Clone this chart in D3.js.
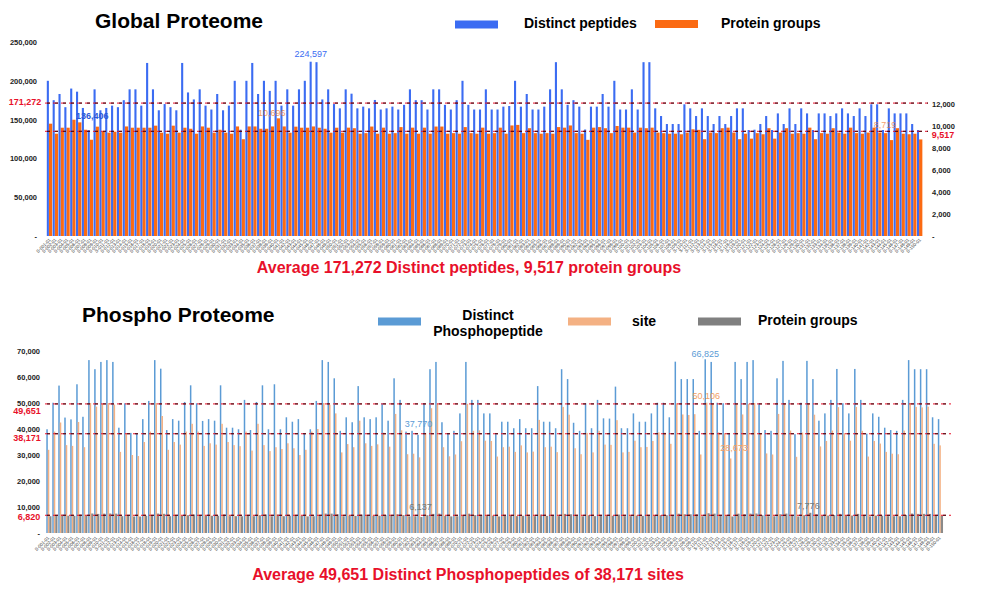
<!DOCTYPE html>
<html>
<head>
<meta charset="UTF-8">
<script src="https://d3js.org/d3.v7.min.js"></script>
<style>
  body { margin: 0; background: #fff; }
  svg text { font-family: "Liberation Sans", Arial, sans-serif; }
</style>
</head>
<body>
<svg id="chart" width="1000" height="594"></svg>
<script>
// sample names are unreadable in the source, so short run ids stand in for them
var samples = d3.range(1, 151).map(function (i) { return "S-" + String(i).padStart(3, "0") + "-01"; });

// global proteome
var peptides = [
  200000, 175000, 183000, 166000, 190000, 186000, 165000, 136406, 189000, 162000,
  165000, 168000, 166000, 175000, 189000, 189000, 168000, 223000, 189000, 162000,
  170000, 166000, 162000, 223000, 185000, 176000, 189000, 168000, 163000, 183000,
  162000, 168000, 200000, 137000, 200000, 223000, 183000, 200000, 187000, 200000,
  168000, 189000, 168000, 189000, 200000, 224597, 224000, 176000, 189000, 170000,
  164500, 189000, 183400, 164500, 166700, 164500, 175300, 163000, 164500, 166700,
  163000, 169000, 189000, 175000, 175000, 163000, 189000, 189000, 169000, 163000,
  175000, 200000, 169000, 163000, 163000, 189000, 163000, 163000, 166700, 167500,
  200000, 166700, 183000, 163000, 163000, 166700, 189000, 224000, 189000, 169000,
  175000, 166700, 137200, 166700, 166700, 183000, 166700, 200000, 163000, 163000,
  189000, 163000, 224000, 224000, 164500, 154600, 144300, 144300, 144300, 169700,
  164500, 154600, 164500, 154600, 144300, 154600, 144300, 154600, 164500, 164500,
  136600, 137000, 144300, 154600, 136600, 158000, 144300, 164500, 144300, 164500,
  158000, 136600, 158000, 158000, 154600, 158000, 164500, 158000, 154600, 164500,
  154600, 169700, 169700, 136600, 164500, 158000, 158000, 158000, 144300, 136600
];
var proteinGroups = [
  10210, 9300, 9845, 9845, 10570, 10330, 9660, 8750, 9940, 9480,
  9390, 9480, 9390, 9960, 9845, 9845, 9845, 9845, 10030, 9390,
  9300, 10030, 9390, 9845, 9750, 9300, 9960, 9845, 9390, 9660,
  9390, 9300, 9960, 8800, 9960, 9960, 9750, 9750, 9960, 10696,
  9960, 9390, 9940, 9845, 9845, 9960, 9845, 9750, 9390, 9845,
  9390, 9850, 9800, 9300, 9350, 9950, 9300, 9850, 9300, 9350,
  9900, 9300, 9850, 9300, 9850, 9300, 9950, 9950, 9300, 9350,
  9300, 9900, 9350, 9300, 9850, 9300, 9350, 9850, 9300, 10050,
  10100, 9350, 9800, 9350, 9300, 9350, 9300, 9900, 9850, 10050,
  9350, 9300, 8740, 9850, 9900, 9800, 9350, 10000, 9850, 9850,
  9400, 9850, 9800, 9850, 9400, 9350, 9300, 9300, 9250, 9400,
  9700, 9650, 8800, 9400, 9350, 9800, 9850, 9400, 8800, 9300,
  8850, 9350, 9250, 9800, 8850, 9400, 9800, 9300, 9350, 9300,
  9850, 8800, 9350, 9300, 9800, 9400, 9300, 9850, 9350, 9300,
  9400, 9850, 9400, 9350, 8719, 9800, 9300, 9250, 9300, 8780
];

// phospho proteome
var phosphoPeptides = [
  39900, 50100, 56700, 44400, 43700, 57200, 44700, 66500, 63000, 65800,
  66500, 65800, 40500, 49900, 38500, 38200, 43800, 50800, 66500, 63200,
  39600, 43800, 43200, 50400, 56800, 49900, 43100, 43800, 43200, 56800,
  40500, 40500, 39900, 51200, 39600, 50400, 56800, 39900, 57200, 39900,
  44500, 42800, 43800, 38300, 39900, 50800, 66500, 65800, 59500, 39300,
  44500, 42600, 56500, 44500, 43800, 44500, 49900, 43200, 59500, 51200,
  39000, 39300, 37770, 49900, 63000, 65800, 42600, 38100, 39300, 46000,
  65800, 51200, 51200, 46000, 46000, 38000, 42800, 42800, 40300, 43800,
  40300, 40300, 56500, 42800, 42800, 40300, 63000, 59200, 42400, 39300,
  49900, 40300, 51200, 44100, 44000, 56300, 40300, 40300, 46000, 42800,
  42800, 46000, 50100, 50100, 44500, 65900, 59200, 59200, 59200, 39300,
  66825, 65800, 50100, 49900, 38300, 65800, 59200, 65800, 66500, 49900,
  39600, 39300, 59500, 66200, 51200, 38000, 50100, 66200, 59200, 43200,
  46000, 51200, 63100, 49900, 46000, 63100, 51200, 38200, 46000, 44700,
  40500, 39600, 39300, 51200, 66500, 63000, 63000, 63000, 44500, 43800
];
var phosphoSites = [
  32000, 39000, 42500, 33800, 33500, 42700, 33000, 50000, 48600, 49700,
  50000, 49400, 31200, 38300, 30000, 29600, 35000, 39000, 50000, 45000,
  32000, 35000, 34000, 39000, 42000, 39000, 33500, 34500, 34000, 42000,
  35000, 33800, 33400, 39000, 31700, 42000, 33800, 31500, 33000, 32300,
  34500, 32600, 30000, 32000, 39000, 40000, 50000, 49300, 46000, 31000,
  34200, 33000, 43200, 34500, 33500, 34100, 38600, 33200, 45800, 39500,
  30300, 30500, 29100, 38500, 48000, 49800, 33000, 29500, 30200, 35300,
  49700, 39300, 39500, 35500, 35400, 29400, 33000, 33200, 31200, 33700,
  31000, 31300, 43500, 33000, 33200, 31100, 48500, 45500, 32600, 30300,
  38500, 31000, 39300, 34000, 33900, 43400, 31000, 31200, 35500, 33000,
  33100, 35400, 38700, 38600, 34300, 49900, 45600, 45400, 45700, 30200,
  50106, 49700, 38700, 38400, 28673, 49600, 45600, 49700, 50000, 38400,
  30600, 30200, 45800, 49900, 39400, 29300, 38600, 49900, 45500, 33300,
  35400, 39400, 48400, 38400, 35500, 48500, 39300, 29400, 35400, 34400,
  31200, 30500, 30300, 39400, 50000, 48500, 48300, 48600, 34300, 33700
];
var phosphoProteins = [
  6450, 6850, 7100, 6650, 6600, 7100, 6650, 7500, 7350, 7450,
  7500, 7450, 6480, 6830, 6350, 6340, 6620, 6860, 7480, 7380,
  6460, 6620, 6600, 6840, 7110, 6820, 6600, 6620, 6600, 7090,
  6480, 6470, 6450, 6880, 6460, 6840, 7100, 6450, 7120, 6460,
  6640, 6570, 6610, 6390, 6450, 6860, 7480, 7440, 7200, 6450,
  6650, 6570, 7080, 6640, 6620, 6650, 6830, 6600, 7210, 6880,
  6420, 6450, 6137, 6840, 7350, 7450, 6570, 6380, 6440, 6700,
  7440, 6880, 6890, 6700, 6690, 6360, 6590, 6590, 6490, 6620,
  6490, 6480, 7090, 6580, 6590, 6500, 7350, 7200, 6560, 6440,
  6830, 6480, 6890, 6640, 6620, 7080, 6490, 6480, 6700, 6590,
  6580, 6700, 6850, 6840, 6650, 7440, 7210, 7190, 7210, 6440,
  7600, 7450, 6850, 6830, 6350, 7440, 7200, 7450, 7500, 6820,
  6460, 6440, 7210, 7470, 6880, 6370, 6850, 7776, 7200, 6600,
  6700, 6880, 7360, 6820, 6700, 7360, 6890, 6380, 6700, 6640,
  6480, 6460, 6440, 6880, 7480, 7350, 7360, 7340, 6650, 6620
];

var globalLeftTicks = [0, 50000, 100000, 150000, 200000, 250000];
var globalRightTicks = [0, 2000, 4000, 6000, 8000, 10000, 12000];
var phosphoTicks = [0, 10000, 20000, 30000, 40000, 50000, 60000, 70000];

var avgPeptides = 171272;
var avgProteinGroups = 9517;
var avgPhosphoPeptides = 49651;
var avgPhosphoSites = 38171;
var avgPhosphoProteins = 6820;

var svg = d3.select("#chart");
var fmt = d3.format(",");
function tickFmt(d) { return d === 0 ? "-" : fmt(d); }

var red = "#e8102a";

// average line: red dashes with dark dashes in between
function avgLine(x0, x1, y) {
  svg.append("line").attr("x1", x0).attr("x2", x1).attr("y1", y).attr("y2", y)
    .attr("stroke", "#e8102a").attr("stroke-width", 1).attr("stroke-dasharray", "5,3");
  svg.append("line").attr("x1", x0 + 2).attr("x2", x1).attr("y1", y).attr("y2", y)
    .attr("stroke", "#3a0a10").attr("stroke-width", 1).attr("stroke-dasharray", "3,5");
}

function label(x, y, txt, color, opts) {
  opts = opts || {};
  return svg.append("text").attr("x", x).attr("y", y)
    .attr("text-anchor", opts.anchor || "middle")
    .attr("dominant-baseline", "middle")
    .style("font-size", (opts.size || 9) + "px")
    .style("font-weight", opts.bold ? "bold" : "normal")
    .style("opacity", opts.opacity || 1)
    .attr("fill", color)
    .text(txt);
}

function xLabels(g) {
  g.select(".domain").remove();
  g.selectAll("text")
    .attr("x", 0).attr("y", 0).attr("dy", "0.35em")
    .attr("text-anchor", "end")
    .attr("transform", "translate(1,2) rotate(-45)")
    .style("font-size", "4.5px")
    .attr("fill", "#333");
}

function yTicks(g) {
  g.select(".domain").remove();
  g.selectAll("text").style("font-size", "7.5px").style("font-weight", "bold").attr("fill", "#222");
}

// ---------- Global Proteome ----------
var x1 = d3.scaleBand().domain(samples).range([46, 922]);
var yL = d3.scaleLinear().domain([0, 250000]).range([236, 42]);
var yR = d3.scaleLinear().domain([0, 17636]).range([236, 42]);

svg.append("g").selectAll("rect").data(samples).enter().append("rect")
  .attr("x", function (d) { return x1(d) + 2.9; })
  .attr("width", 3.3)
  .attr("y", function (d, i) { return yR(proteinGroups[i]); })
  .attr("height", function (d, i) { return yR(0) - yR(proteinGroups[i]); })
  .attr("fill", "#fb6a12");

svg.append("g").selectAll("rect").data(samples).enter().append("rect")
  .attr("x", function (d) { return x1(d) + 0.8; })
  .attr("width", 2.1)
  .attr("y", function (d, i) { return yL(peptides[i]); })
  .attr("height", function (d, i) { return yL(0) - yL(peptides[i]); })
  .attr("fill", "#3b6cf2");

svg.append("g").attr("transform", "translate(40,0)")
  .call(d3.axisLeft(yL).tickValues(globalLeftTicks).tickSize(0).tickPadding(3).tickFormat(tickFmt))
  .call(yTicks);
svg.append("g").attr("transform", "translate(929,0)")
  .call(d3.axisRight(yR).tickValues(globalRightTicks).tickSize(0).tickPadding(3).tickFormat(tickFmt))
  .call(yTicks);
svg.append("g").attr("transform", "translate(0,237)")
  .call(d3.axisBottom(x1).tickSize(0)).call(xLabels);

avgLine(45, 928, yL(avgPeptides));
avgLine(45, 928, yR(avgProteinGroups));
label(25, yL(avgPeptides), fmt(avgPeptides), red, { size: 9, bold: true });
label(943, yR(avgProteinGroups) + 4, fmt(avgProteinGroups), red, { size: 9, bold: true });

// min / max call-outs
var iMaxP = peptides.indexOf(d3.max(peptides));
var iMinP = peptides.indexOf(d3.min(peptides));
var iMaxG = proteinGroups.indexOf(d3.max(proteinGroups));
var iMinG = proteinGroups.indexOf(d3.min(proteinGroups));
label(x1(samples[iMaxP]) + 1.9, yL(peptides[iMaxP]) - 7, fmt(peptides[iMaxP]), "#3b6cf2");
label(x1(samples[iMinP]) + 5.5, yL(peptides[iMinP]) - 14, fmt(peptides[iMinP]), "#2a58d8", { bold: true });
label(x1(samples[iMaxG]) - 2, yR(proteinGroups[iMaxG]) - 5, fmt(proteinGroups[iMaxG]), "#f07a30", { opacity: 0.75 });
label(x1(samples[iMinG]) - 2, yR(proteinGroups[iMinG]) - 14, fmt(proteinGroups[iMinG]), "#f07a30", { opacity: 0.7 });

// title + legend
svg.append("text").attr("x", 95).attr("y", 27.5).style("font-size", "21px").style("font-weight", "bold")
  .attr("fill", "#000").text("Global Proteome");
svg.append("rect").attr("x", 455).attr("y", 20.5).attr("width", 43).attr("height", 8).attr("fill", "#3b6cf2");
label(524, 24.5, "Distinct peptides", "#000", { anchor: "start", size: 14, bold: true });
svg.append("rect").attr("x", 655).attr("y", 20).attr("width", 43).attr("height", 8).attr("fill", "#fb6a12");
label(721, 24.5, "Protein groups", "#000", { anchor: "start", size: 14, bold: true });

label(469, 269, "Average " + fmt(avgPeptides) + " Distinct peptides, " + fmt(avgProteinGroups) + " protein groups",
  red, { size: 16, bold: true });

// ---------- Phospho Proteome ----------
var x2 = d3.scaleBand().domain(samples).range([44.5, 942]);
var y2 = d3.scaleLinear().domain([0, 70000]).range([533, 351]);

svg.append("g").selectAll("rect").data(samples).enter().append("rect")
  .attr("x", function (d) { return x2(d) + 1.8; })
  .attr("width", 1.5)
  .attr("y", function (d, i) { return y2(phosphoPeptides[i]); })
  .attr("height", function (d, i) { return y2(0) - y2(phosphoPeptides[i]); })
  .attr("fill", "#5b9bd5");

svg.append("g").selectAll("rect").data(samples).enter().append("rect")
  .attr("x", function (d) { return x2(d) + 3.3; })
  .attr("width", 1.5)
  .attr("y", function (d, i) { return y2(phosphoSites[i]); })
  .attr("height", function (d, i) { return y2(0) - y2(phosphoSites[i]); })
  .attr("fill", "#f4b183");

svg.append("g").selectAll("rect").data(samples).enter().append("rect")
  .attr("x", function (d) { return x2(d) + 4.8; })
  .attr("width", 2.2)
  .attr("y", function (d, i) { return y2(phosphoProteins[i]); })
  .attr("height", function (d, i) { return y2(0) - y2(phosphoProteins[i]); })
  .attr("fill", "#8a8a8a");

svg.append("g").attr("transform", "translate(43,0)")
  .call(d3.axisLeft(y2).tickValues(phosphoTicks).tickSize(0).tickPadding(3).tickFormat(tickFmt))
  .call(yTicks);
svg.append("g").attr("transform", "translate(0,535)")
  .call(d3.axisBottom(x2).tickSize(0)).call(xLabels);

avgLine(45, 951, y2(avgPhosphoPeptides));
avgLine(45, 951, y2(avgPhosphoSites));
avgLine(45, 951, y2(avgPhosphoProteins));
label(27, y2(avgPhosphoPeptides) + 8, fmt(avgPhosphoPeptides), red, { size: 9, bold: true });
label(27, y2(avgPhosphoSites) + 5, fmt(avgPhosphoSites), red, { size: 9, bold: true });
label(29, y2(avgPhosphoProteins) + 2, fmt(avgPhosphoProteins), red, { size: 9, bold: true });

var iMaxPP = phosphoPeptides.indexOf(d3.max(phosphoPeptides));
var iMinPP = phosphoPeptides.indexOf(d3.min(phosphoPeptides));
var iMaxS = phosphoSites.indexOf(d3.max(phosphoSites));
var iMinS = phosphoSites.indexOf(d3.min(phosphoSites));
var iMaxPr = phosphoProteins.indexOf(d3.max(phosphoProteins));
var iMinPr = phosphoProteins.indexOf(d3.min(phosphoProteins));
label(x2(samples[iMaxPP]) + 2.5, y2(phosphoPeptides[iMaxPP]) - 5, fmt(phosphoPeptides[iMaxPP]), "#5b9bd5");
label(x2(samples[iMinPP]) + 3, y2(phosphoPeptides[iMinPP]) - 10, fmt(phosphoPeptides[iMinPP]), "#5b9bd5");
label(x2(samples[iMaxS]) + 3.5, y2(phosphoSites[iMaxS]) - 6, fmt(phosphoSites[iMaxS]), "#f0a066");
label(x2(samples[iMinS]) + 7.5, y2(phosphoSites[iMinS]) - 10, fmt(phosphoSites[iMinS]), "#f0a066");
label(x2(samples[iMaxPr]) + 4, y2(phosphoProteins[iMaxPr]) - 6, fmt(phosphoProteins[iMaxPr]), "#777");
label(x2(samples[iMinPr]) + 5, y2(phosphoProteins[iMinPr]) - 9, fmt(phosphoProteins[iMinPr]), "#777");

svg.append("text").attr("x", 82).attr("y", 321.5).style("font-size", "21px").style("font-weight", "bold")
  .attr("fill", "#000").text("Phospho Proteome");
svg.append("rect").attr("x", 378).attr("y", 317.5).attr("width", 43).attr("height", 8).attr("fill", "#5b9bd5");
label(488, 316.5, "Distinct", "#000", { size: 14, bold: true });
label(488, 332.5, "Phosphopeptide", "#000", { size: 14, bold: true });
svg.append("rect").attr("x", 568).attr("y", 317.5).attr("width", 43).attr("height", 8).attr("fill", "#f4b183");
label(632, 322, "site", "#000", { anchor: "start", size: 14, bold: true });
svg.append("rect").attr("x", 698).attr("y", 317.5).attr("width", 43).attr("height", 8).attr("fill", "#808080");
label(758, 321.5, "Protein groups", "#000", { anchor: "start", size: 14, bold: true });

label(468, 576, "Average " + fmt(avgPhosphoPeptides) + " Distinct Phosphopeptides of " + fmt(avgPhosphoSites) + " sites",
  red, { size: 16, bold: true });
</script>
</body>
</html>
